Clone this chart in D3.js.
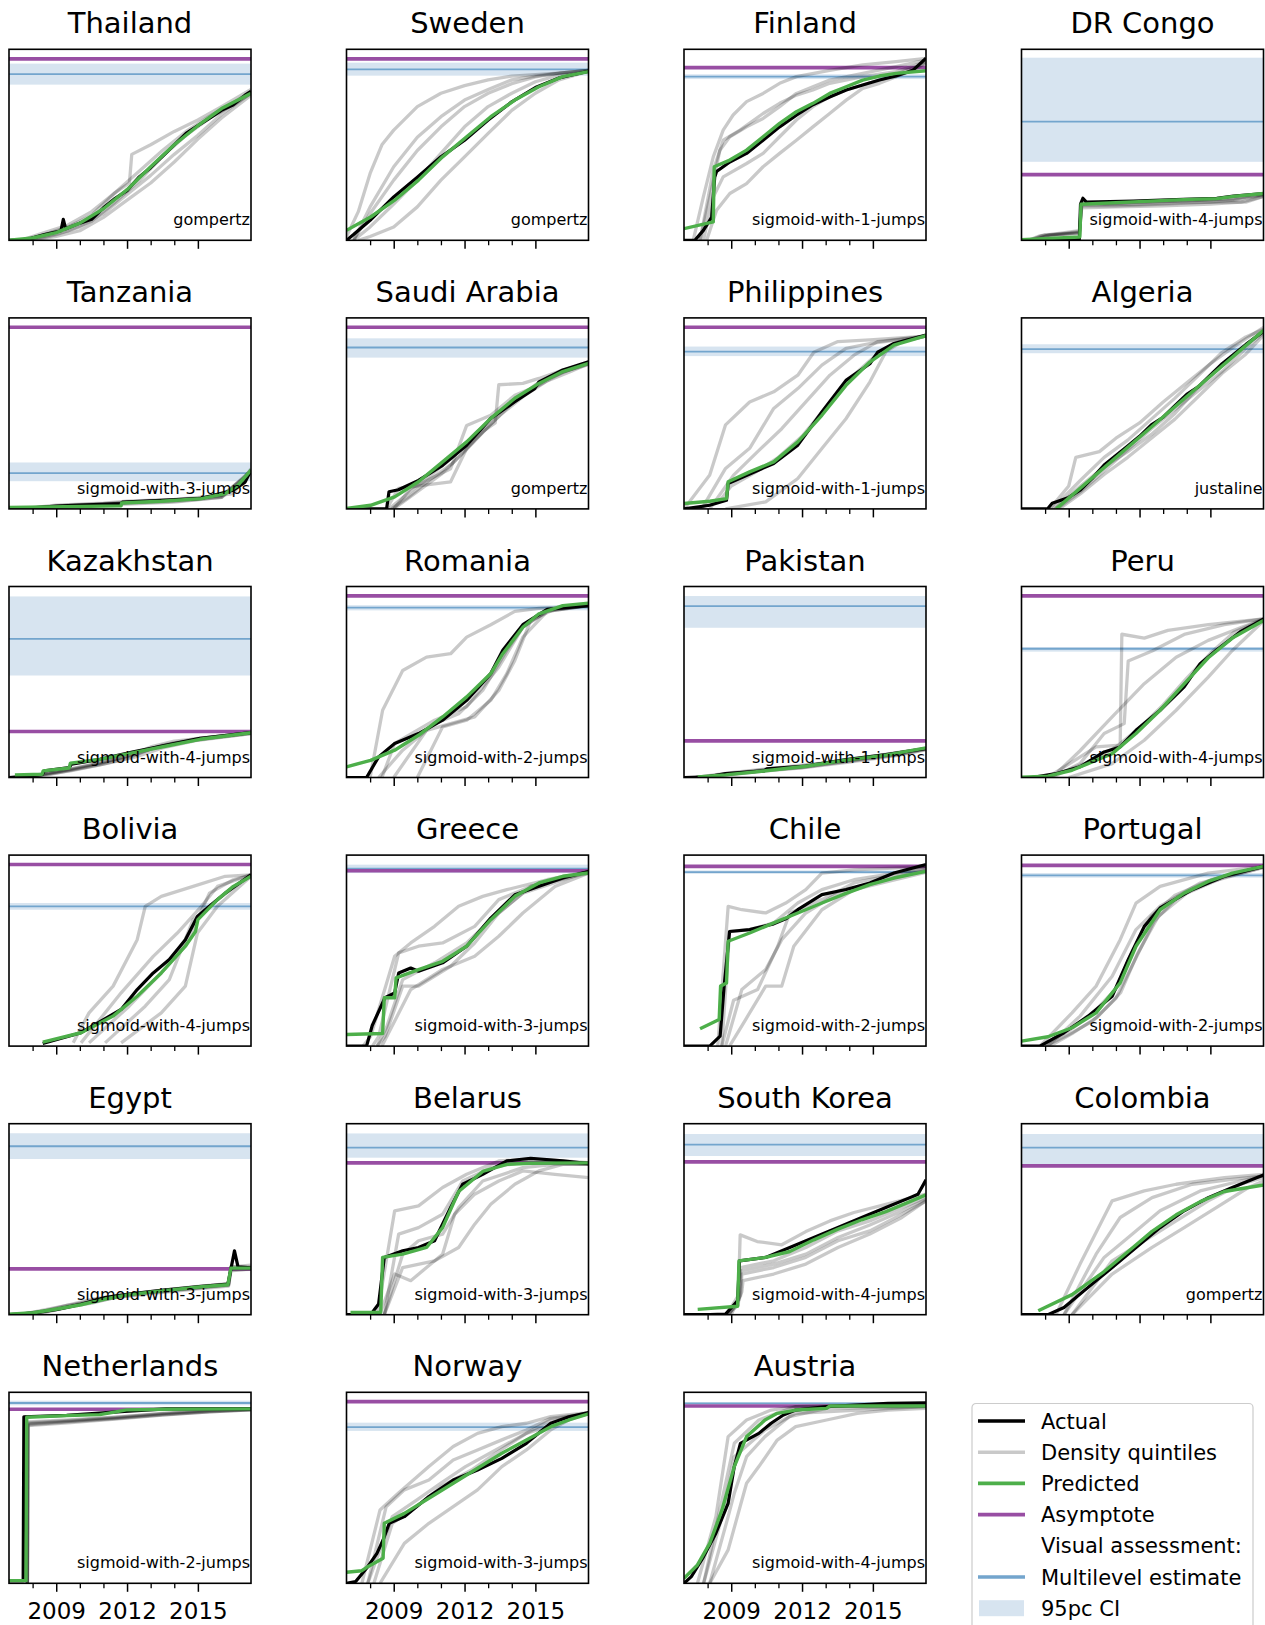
<!DOCTYPE html>
<html><head><meta charset="utf-8">
<script src="https://cdn.jsdelivr.net/npm/d3@7"></script>
<style>body{margin:0;background:#fff;} svg{display:block;font-family:"DejaVu Sans",sans-serif;}</style>
</head><body><svg id="chart" width="1265" height="1625"></svg>
<script>
// ---------------- DATA ----------------
const countries = ["Thailand","Sweden","Finland","DR Congo","Tanzania","Saudi Arabia","Philippines","Algeria",
  "Kazakhstan","Romania","Pakistan","Peru","Bolivia","Greece","Chile","Portugal",
  "Egypt","Belarus","South Korea","Colombia","Netherlands","Norway","Austria"];
const models = ["gompertz","gompertz","sigmoid-with-1-jumps","sigmoid-with-4-jumps","sigmoid-with-3-jumps","gompertz","sigmoid-with-1-jumps","justaline",
  "sigmoid-with-4-jumps","sigmoid-with-2-jumps","sigmoid-with-1-jumps","sigmoid-with-4-jumps","sigmoid-with-4-jumps","sigmoid-with-3-jumps","sigmoid-with-2-jumps","sigmoid-with-2-jumps",
  "sigmoid-with-3-jumps","sigmoid-with-3-jumps","sigmoid-with-4-jumps","gompertz","sigmoid-with-2-jumps","sigmoid-with-3-jumps","sigmoid-with-4-jumps"];
const asymptotes = [0.95,0.95,0.904,0.344,0.951,0.951,0.951,null,0.241,0.951,0.192,0.951,0.951,0.918,0.941,0.946,0.24,0.795,0.8,0.779,0.911,0.951,0.928];
const multilevel = [0.87,0.895,0.857,0.621,0.187,0.845,0.823,0.837,0.726,0.889,0.897,0.674,0.732,0.929,0.911,0.894,0.882,0.875,0.89,0.875,0.944,0.818,0.942];
const ciLow  = [0.815,0.862,0.844,0.411,0.145,0.792,0.80,0.815,0.534,0.875,0.784,0.659,0.714,0.906,0.902,0.882,0.815,0.822,0.831,0.787,0.932,0.798,0.937];
const ciHigh = [0.925,0.93,0.869,0.956,0.243,0.893,0.85,0.862,0.948,0.902,0.95,0.683,0.749,0.95,0.92,0.906,0.95,0.949,0.946,0.946,0.956,0.841,0.948];

const predicted = [
 [[2007,0],[2008,0.012],[2009,0.04],[2010,0.09],[2011,0.165],[2012,0.265],[2013,0.385],[2014,0.5],[2015,0.6],[2016,0.69],[2017.25,0.77]],
 [[2007,0.052],[2008.02,0.122],[2009.04,0.21],[2010.05,0.315],[2011.07,0.437],[2012.09,0.542],[2013.11,0.647],[2014.13,0.734],[2015.15,0.804],[2016.16,0.857],[2017.25,0.883]],
 [[2007,0.061],[2008.24,0.096],[2008.28,0.385],[2008.94,0.42],[2009.65,0.472],[2010.35,0.542],[2011.05,0.612],[2011.76,0.673],[2012.46,0.717],[2013.17,0.769],[2013.87,0.804],[2014.57,0.839],[2015.28,0.86],[2015.98,0.874],[2017.25,0.888]],
 [[2007,0.003],[2009.47,0.017],[2009.52,0.189],[2011.74,0.201],[2013.86,0.213],[2015.27,0.218],[2015.98,0.23],[2017.25,0.245]],
 [[2007,0.007],[2011.75,0.016],[2011.77,0.031],[2013.45,0.04],[2015.15,0.054],[2016.16,0.08],[2016.7,0.124],[2017.25,0.203]],
 [[2007,0.002],[2008.02,0.019],[2009.04,0.063],[2010.05,0.142],[2011.07,0.246],[2012.09,0.351],[2013.11,0.474],[2014.13,0.579],[2015.15,0.657],[2016.16,0.719],[2017.25,0.762]],
 [[2007,0.028],[2008.09,0.04],[2008.8,0.054],[2008.87,0.142],[2009.78,0.194],[2010.8,0.246],[2011.82,0.351],[2012.84,0.49],[2013.86,0.647],[2014.87,0.769],[2015.89,0.857],[2017.25,0.907]],
 [[2008.47,0],[2012.86,0.467],[2017.25,0.935]],
 [[2007.25,0.014],[2008.4,0.017],[2008.45,0.035],[2009.55,0.05],[2009.6,0.075],[2010.85,0.095],[2012.27,0.13],[2013.68,0.165],[2015.09,0.2],[2017.25,0.234]],
 [[2007,0.056],[2008.02,0.09],[2009.04,0.143],[2010.05,0.221],[2011.07,0.317],[2012.09,0.422],[2013.11,0.544],[2013.62,0.648],[2014.47,0.787],[2015.15,0.857],[2016.16,0.9],[2017.25,0.913]],
 [[2007.58,0.003],[2008.76,0.014],[2010.46,0.035],[2012.16,0.059],[2013.86,0.091],[2015.55,0.117],[2017.25,0.155]],
 [[2007,0.002],[2008.12,0.007],[2009.14,0.038],[2009.82,0.073],[2010.84,0.125],[2011.85,0.23],[2012.87,0.352],[2013.89,0.49],[2014.91,0.627],[2015.93,0.73],[2017.25,0.822]],
 [[2008.43,0.021],[2010.05,0.07],[2011.41,0.157],[2012.43,0.261],[2013.45,0.383],[2014.47,0.523],[2014.9,0.6],[2015.0,0.662],[2015.83,0.767],[2016.5,0.836],[2017.25,0.889]],
 [[2007,0.061],[2008.53,0.066],[2008.6,0.253],[2009.04,0.253],[2009.1,0.357],[2010.05,0.4],[2011.07,0.444],[2012.09,0.523],[2013.11,0.662],[2014.13,0.784],[2015.15,0.854],[2016.16,0.889],[2017.25,0.906]],
 [[2007.68,0.091],[2008.49,0.139],[2008.55,0.314],[2008.8,0.33],[2008.87,0.549],[2009.78,0.592],[2010.8,0.645],[2011.82,0.697],[2012.84,0.749],[2013.86,0.8],[2014.87,0.845],[2015.89,0.88],[2017.25,0.915]],
 [[2007,0.026],[2008.12,0.049],[2009.14,0.096],[2010.16,0.174],[2011.18,0.331],[2011.85,0.523],[2012.87,0.714],[2013.89,0.801],[2014.91,0.862],[2015.93,0.906],[2017.25,0.941]],
 [[2007,0.003],[2008.02,0.01],[2009.04,0.03],[2010.05,0.052],[2011.07,0.082],[2012.09,0.105],[2013.45,0.125],[2015.15,0.146],[2016.27,0.157],[2016.4,0.244],[2017.25,0.244]],
 [[2007.17,0.012],[2008.45,0.012],[2008.53,0.3],[2009.38,0.317],[2010.39,0.352],[2011.07,0.456],[2011.75,0.645],[2012.77,0.75],[2013.79,0.787],[2014.8,0.793],[2017.25,0.795]],
 [[2007.58,0.028],[2009.27,0.044],[2009.33,0.282],[2010.46,0.3],[2011.48,0.331],[2012.5,0.392],[2013.52,0.448],[2014.53,0.497],[2015.55,0.54],[2016.57,0.592],[2017.25,0.627]],
 [[2007.71,0.021],[2009.14,0.105],[2010.5,0.226],[2011.52,0.331],[2012.53,0.436],[2013.55,0.523],[2014.57,0.592],[2015.59,0.645],[2017.25,0.679]],
 [[2007,0.014],[2007.72,0.014],[2007.75,0.869],[2009.44,0.878],[2010.84,0.883],[2011.41,0.895],[2011.97,0.908],[2013.66,0.911],[2017.25,0.913]],
 [[2007,0.058],[2007.65,0.066],[2007.9,0.087],[2008.55,0.131],[2008.6,0.314],[2009.45,0.366],[2010.49,0.445],[2011.52,0.524],[2012.55,0.602],[2013.58,0.681],[2014.62,0.75],[2015.65,0.82],[2016.42,0.855],[2017.25,0.887]],
 [[2007,0.026],[2007.57,0.096],[2008.09,0.209],[2008.61,0.384],[2009.13,0.611],[2009.65,0.768],[2010.43,0.855],[2010.95,0.89],[2011.73,0.907],[2013.04,0.916],[2013.17,0.928],[2017.25,0.928]]
];

const actual = [
 [[2007,0],[2007.8,0.005],[2008.5,0.03],[2009.2,0.05],[2009.3,0.11],[2009.4,0.06],[2010,0.09],[2010.5,0.11],[2011,0.17],[2011.5,0.22],[2012,0.26],[2012.5,0.33],[2013,0.38],[2013.5,0.44],[2014,0.5],[2014.5,0.56],[2015,0.6],[2015.5,0.64],[2016,0.68],[2016.5,0.71],[2017,0.76],[2017.25,0.78]],
 [[2007,0],[2007.3,0.03],[2008,0.105],[2009,0.227],[2010,0.33],[2011,0.437],[2012,0.524],[2013,0.63],[2014,0.725],[2015,0.8],[2016,0.85],[2017.25,0.885]],
 [[2007,0],[2007.46,0],[2007.82,0.052],[2008.17,0.12],[2008.3,0.33],[2008.38,0.36],[2008.94,0.41],[2009.65,0.455],[2010.35,0.524],[2011.05,0.594],[2011.76,0.655],[2012.46,0.71],[2013.17,0.75],[2013.87,0.787],[2014.57,0.813],[2015.28,0.839],[2015.98,0.86],[2016.69,0.89],[2017.25,0.953]],
 [[2007,0],[2009.45,0.005],[2009.5,0.19],[2009.6,0.22],[2009.75,0.2],[2011.74,0.205],[2013.86,0.215],[2015.27,0.22],[2015.98,0.232],[2017.25,0.245]],
 [[2007,0],[2008,0.005],[2009,0.015],[2010,0.02],[2011.75,0.028],[2011.8,0.035],[2013.45,0.045],[2015.15,0.055],[2016.5,0.098],[2017,0.14],[2017.25,0.203]],
 [[2007,0],[2008.7,0.002],[2008.8,0.09],[2009.2,0.1],[2010.05,0.149],[2011.07,0.228],[2012.09,0.333],[2013.11,0.474],[2014.13,0.561],[2014.97,0.63],[2015.15,0.665],[2016.16,0.727],[2017.25,0.77]],
 [[2007,0],[2008.09,0.019],[2008.8,0.045],[2008.87,0.133],[2010.8,0.238],[2011.82,0.334],[2012.84,0.507],[2013.86,0.673],[2014.87,0.76],[2015.2,0.82],[2015.89,0.866],[2017.25,0.91]],
 [[2007,0],[2008.1,0],[2008.3,0.03],[2009,0.06],[2009.5,0.1],[2010,0.16],[2010.5,0.23],[2011,0.28],[2011.5,0.33],[2012,0.38],[2012.5,0.44],[2013,0.48],[2013.5,0.54],[2014,0.6],[2014.5,0.64],[2015,0.7],[2015.5,0.76],[2016,0.81],[2016.5,0.86],[2017.25,0.93]],
 [[2007,0],[2007.5,0.005],[2008.4,0.015],[2008.5,0.035],[2009.55,0.052],[2009.65,0.07],[2010.85,0.095],[2012.27,0.135],[2013.68,0.17],[2015.09,0.205],[2017.25,0.235]],
 [[2007,0],[2007.85,0],[2008.36,0.108],[2009.04,0.178],[2010.05,0.23],[2011.07,0.3],[2012.09,0.404],[2013.11,0.544],[2013.62,0.666],[2014.47,0.8],[2015.5,0.88],[2017.25,0.9]],
 [[2007,0],[2008,0.003],[2008.76,0.02],[2010.4,0.035],[2010.5,0.045],[2012.16,0.06],[2013.86,0.094],[2015.55,0.12],[2017.25,0.152]],
 [[2007,0],[2007.44,0],[2008.46,0.02],[2009.48,0.056],[2010.5,0.134],[2011.18,0.16],[2011.85,0.247],[2012.87,0.352],[2013.89,0.475],[2014.57,0.596],[2015.25,0.666],[2016.27,0.763],[2017.25,0.829]],
 [[2008.43,0.014],[2010.05,0.07],[2011.75,0.192],[2012.43,0.296],[2013.11,0.383],[2013.79,0.453],[2014.47,0.557],[2014.98,0.679],[2015.49,0.732],[2016.16,0.801],[2017.25,0.897]],
 [[2007,0],[2007.85,0],[2008.09,0.108],[2008.63,0.253],[2009.04,0.279],[2009.21,0.383],[2009.72,0.409],[2010.05,0.392],[2011.07,0.436],[2012.09,0.523],[2013.11,0.67],[2014.13,0.792],[2016.16,0.88],[2017.25,0.914]],
 [[2007,0],[2008.09,0],[2008.53,0.052],[2008.7,0.314],[2008.93,0.6],[2009.78,0.61],[2010.8,0.64],[2011.31,0.666],[2011.82,0.714],[2012.84,0.793],[2013.86,0.82],[2014.87,0.854],[2015.89,0.906],[2017.25,0.95]],
 [[2007,0],[2007.78,0],[2008.8,0.07],[2009.82,0.157],[2010.84,0.261],[2011.52,0.453],[2012.2,0.627],[2012.87,0.723],[2014.23,0.819],[2015.59,0.889],[2017.25,0.941]],
 [[2007,0],[2008.02,0.008],[2009.04,0.028],[2010.05,0.055],[2010.5,0.07],[2011.07,0.09],[2012.09,0.108],[2013.45,0.127],[2015.15,0.148],[2016.27,0.16],[2016.4,0.24],[2016.55,0.334],[2016.7,0.25],[2017.25,0.245]],
 [[2007,0],[2008.02,0],[2008.36,0.056],[2008.6,0.3],[2009.38,0.335],[2010.05,0.352],[2010.73,0.387],[2011.41,0.561],[2011.92,0.683],[2012.77,0.735],[2013.79,0.805],[2014.8,0.819],[2016.16,0.805],[2017.25,0.791]],
 [[2007,0],[2008.09,0],[2008.76,0.003],[2009.27,0.073],[2009.35,0.282],[2010.46,0.3],[2011.48,0.352],[2012.5,0.404],[2013.52,0.456],[2014.53,0.509],[2015.55,0.561],[2016.57,0.613],[2016.91,0.631],[2017.25,0.706]],
 [[2007,0],[2008.12,0],[2008.8,0.038],[2009.82,0.143],[2010.84,0.247],[2011.85,0.352],[2012.87,0.456],[2013.89,0.544],[2014.91,0.613],[2015.93,0.666],[2016.61,0.7],[2017.25,0.732]],
 [[2007,0.014],[2007.6,0.014],[2007.63,0.872],[2009.44,0.879],[2011.9,0.9],[2013.66,0.913],[2017.25,0.915]],
 [[2007,0],[2007.39,0.009],[2007.9,0.087],[2008.29,0.157],[2008.55,0.227],[2008.81,0.314],[2009.45,0.349],[2010.49,0.454],[2011.52,0.541],[2012.55,0.593],[2013.58,0.654],[2014.62,0.733],[2015.65,0.838],[2016.42,0.872],[2017.25,0.894]],
 [[2007,0],[2007.31,0.035],[2007.83,0.14],[2008.35,0.262],[2008.87,0.419],[2009.13,0.611],[2009.39,0.733],[2010.17,0.785],[2010.69,0.838],[2011.21,0.881],[2011.73,0.907],[2013.04,0.925],[2015.64,0.942],[2017.25,0.945]]
];

const quintiles = [
 [ [[2007.5,0],[2008.5,0.03],[2009.5,0.07],[2010.5,0.13],[2011.5,0.25],[2012.1,0.3],[2012.2,0.45],[2013,0.5],[2014,0.57],[2015,0.63],[2016,0.7],[2017.25,0.79]],
   [[2007.5,0],[2008.5,0.04],[2009.5,0.08],[2010.5,0.15],[2011.5,0.25],[2012.5,0.36],[2013.5,0.47],[2014.5,0.57],[2015.5,0.65],[2016.5,0.72],[2017.25,0.78]],
   [[2007.7,0],[2008.5,0.02],[2009.5,0.05],[2010.5,0.1],[2011.5,0.2],[2012.5,0.31],[2013.5,0.44],[2014.5,0.55],[2015.5,0.64],[2016.5,0.71],[2017.25,0.77]],
   [[2008,0],[2009,0.02],[2010,0.05],[2011,0.12],[2012,0.21],[2013,0.3],[2014,0.41],[2015,0.53],[2016,0.64],[2017.25,0.76]],
   [[2008,0],[2009,0.03],[2010,0.07],[2011,0.14],[2012,0.24],[2013,0.34],[2014,0.45],[2015,0.55],[2016,0.66],[2017.25,0.77]] ],
 [ [[2007,0.02],[2007.5,0.15],[2008,0.35],[2008.5,0.5],[2009,0.577],[2010,0.7],[2011,0.77],[2012,0.81],[2013,0.84],[2014,0.86],[2016,0.875],[2017.25,0.89]],
   [[2007.3,0],[2008,0.175],[2009,0.385],[2010,0.54],[2011,0.647],[2012,0.734],[2013,0.79],[2014,0.84],[2015,0.86],[2016,0.875],[2017.25,0.89]],
   [[2007.3,0],[2008,0.14],[2009,0.315],[2010,0.47],[2011,0.594],[2012,0.7],[2013,0.77],[2014,0.82],[2015,0.855],[2016,0.875],[2017.25,0.89]],
   [[2007.3,0],[2008,0.07],[2009,0.19],[2010,0.315],[2011,0.455],[2012,0.594],[2013,0.7],[2014,0.77],[2015,0.83],[2016,0.865],[2017.25,0.885]],
   [[2007.5,0],[2008,0.02],[2009,0.07],[2010,0.175],[2011,0.315],[2012,0.437],[2013,0.56],[2014,0.68],[2015,0.77],[2016,0.84],[2017.25,0.885]] ],
 [ [[2007.39,0],[2007.82,0.227],[2008.24,0.437],[2008.66,0.577],[2009.08,0.656],[2009.65,0.726],[2010.35,0.769],[2011.05,0.822],[2011.76,0.857],[2013.17,0.89],[2014.57,0.918],[2015.98,0.935],[2017.25,0.953]],
   [[2007.68,0],[2008.1,0.227],[2008.52,0.472],[2008.94,0.542],[2009.65,0.594],[2010.35,0.638],[2011.05,0.7],[2011.76,0.769],[2012.46,0.804],[2013.17,0.839],[2014.57,0.874],[2015.98,0.909],[2017.25,0.944]],
   [[2007.68,0],[2008.24,0.367],[2008.66,0.524],[2009.37,0.577],[2010.35,0.664],[2011.05,0.717],[2011.76,0.76],[2012.46,0.787],[2013.17,0.822],[2014.57,0.857],[2015.98,0.883],[2017.25,0.935]],
   [[2007.82,0],[2008.24,0.227],[2008.66,0.332],[2009.65,0.402],[2010.35,0.455],[2011.05,0.542],[2011.76,0.63],[2012.46,0.7],[2013.17,0.752],[2013.87,0.787],[2015.28,0.839],[2017.25,0.927]],
   [[2007.96,0],[2008.38,0.157],[2008.94,0.245],[2009.65,0.297],[2010.35,0.385],[2011.05,0.455],[2011.76,0.524],[2012.46,0.594],[2013.17,0.664],[2013.87,0.734],[2014.57,0.795],[2015.28,0.822],[2016.69,0.89],[2017.25,0.927]] ],
 [ [[2007.3,0],[2007.8,0.02],[2009.45,0.045],[2009.55,0.2],[2010.5,0.19],[2012,0.2],[2014,0.205],[2016,0.22],[2017.25,0.24]],
   [[2007.3,0],[2007.8,0.025],[2009.45,0.04],[2009.55,0.18],[2011,0.18],[2013,0.19],[2015,0.2],[2016,0.21],[2017.25,0.235]],
   [[2007.4,0],[2008,0.03],[2009.45,0.035],[2009.55,0.17],[2011,0.175],[2013,0.18],[2015,0.19],[2016.3,0.2],[2017.25,0.23]],
   [[2007.4,0],[2008,0.02],[2009.45,0.04],[2009.55,0.19],[2012,0.2],[2014,0.21],[2016,0.215],[2017.25,0.24]],
   [[2007.5,0],[2008.2,0.03],[2009.45,0.05],[2009.55,0.185],[2012,0.19],[2014,0.2],[2016.5,0.2],[2017.25,0.23]] ],
 [ [[2007.5,0],[2009,0.02],[2011,0.03],[2012,0.04],[2014,0.05],[2016,0.07],[2017.25,0.19]],
   [[2007.5,0],[2009,0.015],[2011,0.025],[2012,0.035],[2014,0.045],[2016,0.065],[2017.25,0.2]],
   [[2007.8,0],[2009,0.01],[2011,0.02],[2012,0.03],[2014,0.04],[2016,0.06],[2017.25,0.2]],
   [[2007.8,0],[2009.5,0.02],[2011.5,0.03],[2013,0.04],[2015,0.055],[2016.5,0.08],[2017.25,0.21]],
   [[2008,0],[2010,0.015],[2012,0.025],[2014,0.035],[2016,0.06],[2017.25,0.19]] ],
 [ [[2008.7,0],[2009.2,0.107],[2011.41,0.142],[2012.09,0.316],[2012.77,0.404],[2013.3,0.45],[2013.45,0.65],[2014.47,0.657],[2015.15,0.683],[2016.16,0.727],[2017.25,0.762]],
   [[2009,0],[2009.72,0.107],[2011.41,0.21],[2012.09,0.437],[2013.11,0.49],[2014.13,0.595],[2015.15,0.647],[2016.16,0.717],[2017.25,0.755]],
   [[2008.8,0],[2009.5,0.07],[2010.5,0.17],[2011.5,0.27],[2012.5,0.4],[2013.5,0.51],[2014.5,0.6],[2015.5,0.68],[2016.5,0.73],[2017.25,0.765]],
   [[2008.9,0],[2009.6,0.06],[2010.5,0.15],[2011.5,0.24],[2012.5,0.37],[2013.5,0.49],[2014.5,0.59],[2015.5,0.67],[2016.5,0.72],[2017.25,0.76]],
   [[2009,0],[2010,0.09],[2011,0.18],[2012,0.3],[2013,0.43],[2014,0.55],[2015,0.65],[2016,0.71],[2017.25,0.76]] ],
 [ [[2007,0],[2008.09,0.177],[2008.76,0.44],[2009.78,0.56],[2010.8,0.613],[2011.82,0.7],[2012.5,0.82],[2013.52,0.876],[2014.87,0.885],[2017.25,0.905]],
   [[2007.75,0],[2008.76,0.212],[2009.78,0.317],[2010.8,0.526],[2011.82,0.63],[2012.84,0.753],[2013.86,0.84],[2014.87,0.866],[2017.25,0.905]],
   [[2008.09,0],[2009.1,0.177],[2010.12,0.3],[2011.14,0.42],[2012.16,0.56],[2013.18,0.7],[2014.2,0.805],[2015.2,0.876],[2017.25,0.905]],
   [[2007.5,0],[2008.5,0.04],[2009,0.12],[2010,0.19],[2011,0.27],[2012,0.38],[2013,0.53],[2014,0.68],[2015,0.79],[2016,0.87],[2017.25,0.905]],
   [[2008.76,0],[2010.46,0.037],[2011.82,0.159],[2012.84,0.316],[2013.86,0.472],[2014.87,0.664],[2015.55,0.823],[2016.23,0.876],[2017.25,0.905]] ],
 [ [[2008.2,0],[2009,0.12],[2009.3,0.27],[2010.3,0.3],[2011,0.37],[2012,0.45],[2013,0.56],[2014,0.66],[2015,0.76],[2016,0.85],[2017.25,0.95]],
   [[2008.3,0],[2009.5,0.15],[2010.5,0.27],[2011.5,0.36],[2012.5,0.47],[2013.5,0.58],[2014.5,0.7],[2015.5,0.82],[2016.5,0.9],[2017.25,0.94]],
   [[2008.4,0],[2009.5,0.12],[2010.5,0.22],[2011.5,0.3],[2012.5,0.39],[2013.5,0.5],[2014.5,0.64],[2015.5,0.76],[2016.5,0.86],[2017.25,0.93]],
   [[2008.5,0],[2009.5,0.09],[2010.5,0.2],[2011.5,0.31],[2012.5,0.42],[2013.5,0.52],[2014.5,0.62],[2015.5,0.72],[2016.5,0.84],[2017.25,0.92]],
   [[2008.6,0],[2009.5,0.08],[2010.5,0.18],[2011.5,0.27],[2012.5,0.37],[2013.5,0.47],[2014.5,0.59],[2015.5,0.71],[2016.5,0.81],[2017.25,0.91]] ],
 [ [[2007.5,0],[2008.5,0.02],[2009.6,0.04],[2010.8,0.07],[2012,0.11],[2013,0.16],[2014,0.19],[2015.5,0.21],[2017.25,0.235]],
   [[2007.5,0],[2008.5,0.015],[2009.6,0.035],[2010.8,0.065],[2012,0.1],[2013,0.15],[2014,0.18],[2015.5,0.205],[2017.25,0.23]],
   [[2007.6,0],[2008.6,0.02],[2009.6,0.045],[2010.8,0.075],[2012,0.115],[2013.5,0.165],[2015,0.2],[2017.25,0.232]],
   [[2007.7,0],[2008.7,0.015],[2009.7,0.04],[2011,0.07],[2012.3,0.105],[2013.5,0.155],[2015,0.195],[2017.25,0.23]],
   [[2007.7,0],[2008.7,0.02],[2009.7,0.045],[2011,0.08],[2012.3,0.12],[2013.5,0.17],[2015,0.205],[2017.25,0.235]] ],
 [ [[2008.0,0],[2008.53,0.352],[2009.38,0.56],[2010.39,0.63],[2011.41,0.648],[2012.09,0.735],[2013.11,0.8],[2014.13,0.87],[2015.15,0.885],[2017.25,0.9]],
   [[2008.36,0],[2009.38,0.143],[2010.73,0.282],[2011.75,0.334],[2012.77,0.456],[2013.79,0.665],[2014.47,0.787],[2015.49,0.874],[2017.25,0.9]],
   [[2008.5,0],[2009.04,0.178],[2010.73,0.3],[2012.09,0.37],[2013.45,0.578],[2014.47,0.787],[2015.5,0.87],[2017.25,0.9]],
   [[2009,0],[2010.39,0.247],[2011.41,0.282],[2012.43,0.317],[2013.45,0.456],[2014.13,0.613],[2014.8,0.822],[2015.83,0.882],[2017.25,0.9]],
   [[2010,0],[2011.07,0.265],[2012.09,0.3],[2013.11,0.404],[2013.79,0.544],[2014.47,0.735],[2015.5,0.87],[2017.25,0.9]] ],
 [ [[2007.5,0],[2009,0.025],[2010.5,0.045],[2012,0.065],[2014,0.09],[2016,0.125],[2017.25,0.15]],
   [[2007.5,0],[2009,0.02],[2010.5,0.04],[2012,0.055],[2014,0.085],[2016,0.12],[2017.25,0.148]],
   [[2007.7,0],[2009,0.015],[2010.5,0.035],[2012,0.05],[2014,0.08],[2016,0.115],[2017.25,0.145]],
   [[2007.7,0],[2009,0.022],[2010.5,0.042],[2012,0.06],[2014,0.092],[2016,0.13],[2017.25,0.152]],
   [[2007.8,0],[2009,0.018],[2010.5,0.038],[2012,0.052],[2014,0.088],[2016,0.118],[2017.25,0.15]] ],
 [ [[2008.1,0],[2010.16,0.16],[2011.18,0.17],[2011.25,0.75],[2012.2,0.73],[2013.2,0.77],[2014.91,0.8],[2017.25,0.83]],
   [[2008.3,0],[2009.48,0.073],[2010.5,0.23],[2011.35,0.282],[2011.52,0.61],[2012.53,0.662],[2013.89,0.749],[2015.59,0.8],[2017.25,0.83]],
   [[2008.3,0],[2009.48,0.14],[2010.84,0.317],[2012.2,0.491],[2013.55,0.63],[2014.91,0.718],[2016.27,0.784],[2017.25,0.83]],
   [[2008,0],[2009,0.04],[2010,0.09],[2011,0.16],[2012,0.26],[2013,0.38],[2014,0.52],[2015,0.65],[2016,0.76],[2017.25,0.83]],
   [[2009,0],[2010.84,0.073],[2012.2,0.195],[2013.55,0.352],[2014.91,0.526],[2015.93,0.665],[2017.25,0.82]] ],
 [ [[2009.72,0.017],[2010.39,0.174],[2011.41,0.314],[2012.43,0.557],[2012.77,0.732],[2013.45,0.784],[2014.8,0.836],[2016.16,0.889],[2017.25,0.897]],
   [[2010.05,0.017],[2011.75,0.279],[2013.11,0.47],[2014.13,0.592],[2015.15,0.732],[2015.83,0.836],[2017.25,0.897]],
   [[2010.39,0.017],[2012.09,0.209],[2013.45,0.383],[2014.47,0.523],[2015.49,0.801],[2016.5,0.871],[2017.25,0.897]],
   [[2011.07,0.017],[2012.77,0.209],[2013.79,0.348],[2014.8,0.662],[2015.83,0.767],[2017.25,0.897]],
   [[2011.75,0.017],[2013.45,0.174],[2014.47,0.314],[2014.98,0.592],[2015.83,0.732],[2017.25,0.889]] ],
 [ [[2007.7,0],[2008.02,0.05],[2009.04,0.47],[2009.72,0.54],[2010.73,0.627],[2011.75,0.732],[2012.77,0.784],[2013.79,0.819],[2015.49,0.871],[2017.25,0.914]],
   [[2008.1,0],[2008.36,0.05],[2009.21,0.488],[2010.05,0.523],[2011.07,0.54],[2012.43,0.627],[2013.45,0.767],[2014.8,0.836],[2017.25,0.914]],
   [[2008.3,0],[2008.7,0.1],[2009.38,0.348],[2010.73,0.436],[2012.09,0.54],[2013.11,0.662],[2014.47,0.801],[2017.25,0.914]],
   [[2008.3,0],[2008.63,0.05],[2009.38,0.314],[2010.05,0.314],[2011.41,0.418],[2012.43,0.54],[2013.45,0.697],[2014.8,0.836],[2017.25,0.906]],
   [[2008.5,0],[2009.72,0.296],[2011.07,0.401],[2012.43,0.47],[2013.45,0.575],[2014.47,0.697],[2015.83,0.836],[2017.25,0.906]] ],
 [ [[2008.43,0],[2008.87,0.732],[2009.45,0.714],[2010.46,0.697],[2011.31,0.749],[2012.16,0.819],[2012.84,0.906],[2014.2,0.923],[2017.25,0.94]],
   [[2008.6,0],[2008.93,0.6],[2009.78,0.61],[2010.8,0.645],[2011.82,0.749],[2012.84,0.819],[2014.2,0.871],[2017.25,0.93]],
   [[2008.6,0],[2009.1,0.24],[2010.12,0.296],[2010.97,0.523],[2011.48,0.697],[2012.84,0.767],[2014.2,0.854],[2017.25,0.93]],
   [[2008.76,0],[2009.45,0.296],[2010.46,0.401],[2011.14,0.557],[2012.16,0.697],[2013.52,0.801],[2015.55,0.871],[2017.25,0.92]],
   [[2008.93,0],[2009.61,0.139],[2010.46,0.314],[2011.14,0.314],[2011.65,0.523],[2012.84,0.714],[2014.2,0.819],[2017.25,0.91]] ],
 [ [[2007.78,0],[2009.14,0.174],[2010.16,0.314],[2011.18,0.557],[2011.85,0.749],[2012.87,0.836],[2014.91,0.906],[2017.25,0.941]],
   [[2008.12,0],[2009.48,0.157],[2010.84,0.366],[2011.85,0.61],[2012.87,0.732],[2014.57,0.854],[2017.25,0.941]],
   [[2007.9,0],[2009,0.08],[2010,0.17],[2011,0.3],[2011.7,0.5],[2012.5,0.68],[2013.5,0.79],[2015,0.87],[2017.25,0.94]],
   [[2008,0],[2009,0.06],[2010,0.13],[2011,0.25],[2011.8,0.45],[2012.6,0.65],[2013.6,0.78],[2015,0.86],[2017.25,0.935]],
   [[2008.2,0],[2009.2,0.07],[2010.2,0.15],[2011.2,0.28],[2011.9,0.48],[2012.8,0.68],[2014,0.8],[2015.5,0.88],[2017.25,0.935]] ],
 [ [[2007.3,0],[2008.5,0.02],[2009.5,0.05],[2010.5,0.08],[2011.5,0.1],[2013,0.12],[2015,0.14],[2016.3,0.16],[2016.4,0.25],[2017.25,0.26]],
   [[2007.3,0],[2008.5,0.015],[2009.5,0.04],[2010.5,0.06],[2011.5,0.09],[2013,0.11],[2015,0.135],[2016.3,0.15],[2016.4,0.23],[2017.25,0.24]],
   [[2007.5,0],[2008.5,0.02],[2009.5,0.045],[2010.5,0.075],[2011.5,0.095],[2013,0.118],[2015,0.142],[2016.3,0.155],[2016.4,0.24],[2017.25,0.245]],
   [[2007.5,0],[2008.5,0.025],[2009.5,0.05],[2010.5,0.065],[2011.5,0.09],[2013,0.115],[2015,0.14],[2016.3,0.155],[2016.4,0.235],[2017.25,0.238]],
   [[2007.6,0],[2008.5,0.012],[2009.5,0.038],[2010.5,0.07],[2011.5,0.098],[2013,0.122],[2015,0.148],[2016.3,0.162],[2016.4,0.25],[2017.25,0.25]] ],
 [ [[2008.3,0],[2009.04,0.544],[2010.05,0.57],[2011.07,0.666],[2012.09,0.735],[2013.45,0.805],[2014.8,0.815],[2016.16,0.805],[2017.25,0.796]],
   [[2008.6,0],[2009.21,0.422],[2010.05,0.456],[2011.07,0.526],[2011.92,0.7],[2013.11,0.77],[2014.8,0.805],[2017.25,0.787]],
   [[2008.6,0],[2009.38,0.317],[2010.05,0.387],[2011.07,0.422],[2011.75,0.561],[2012.77,0.7],[2014.47,0.77],[2015.83,0.787],[2017.25,0.787]],
   [[2008.4,0],[2009.04,0.213],[2009.72,0.178],[2010.39,0.247],[2011.07,0.317],[2011.58,0.526],[2012.43,0.631],[2013.45,0.7],[2014.47,0.753],[2015.83,0.735],[2017.25,0.718]],
   [[2008.6,0],[2009.38,0.247],[2010.73,0.282],[2011.75,0.352],[2012.43,0.474],[2013.11,0.578],[2014.13,0.683],[2015.15,0.753],[2016.16,0.787],[2017.25,0.787]] ],
 [ [[2008.8,0],[2009.3,0.1],[2009.38,0.418],[2010.1,0.383],[2011.14,0.366],[2012.16,0.435],[2013.18,0.491],[2014.2,0.535],[2015.55,0.578],[2017.25,0.631]],
   [[2008.8,0],[2009.3,0.05],[2009.4,0.247],[2010.8,0.282],[2012.16,0.352],[2013.52,0.439],[2014.87,0.491],[2016.23,0.561],[2017.25,0.613]],
   [[2008.9,0],[2009.35,0.08],[2009.42,0.23],[2010.8,0.265],[2012.16,0.317],[2013.52,0.404],[2014.87,0.47],[2016.23,0.543],[2017.25,0.605]],
   [[2008.9,0],[2009.4,0.1],[2009.45,0.213],[2010.8,0.247],[2012.16,0.3],[2013.52,0.387],[2014.87,0.439],[2016.23,0.526],[2017.25,0.596]],
   [[2009,0],[2009.45,0.12],[2009.5,0.178],[2010.8,0.213],[2012.16,0.265],[2013.52,0.352],[2014.87,0.422],[2016.23,0.509],[2017.25,0.596]] ],
 [ [[2008.46,0],[2009.48,0.265],[2010.84,0.596],[2012.2,0.648],[2013.55,0.683],[2015.59,0.718],[2017.25,0.735]],
   [[2008.8,0],[2010.16,0.317],[2011.18,0.509],[2012.53,0.613],[2014.23,0.683],[2015.93,0.709],[2017.25,0.727]],
   [[2008.8,0],[2010.5,0.3],[2011.52,0.404],[2012.87,0.544],[2014.57,0.648],[2016.27,0.7],[2017.25,0.727]],
   [[2009.14,0],[2010.84,0.282],[2012.2,0.387],[2013.55,0.491],[2014.91,0.596],[2016.27,0.683],[2017.25,0.718]],
   [[2009.14,0],[2010.84,0.213],[2012.53,0.352],[2013.89,0.456],[2015.25,0.561],[2016.61,0.666],[2017.25,0.7]] ],
 [ [[2007.78,0],[2007.8,0.845],[2009.5,0.855],[2011.5,0.87],[2013.5,0.89],[2015.5,0.905],[2017.25,0.912]],
   [[2007.78,0],[2007.8,0.835],[2009.5,0.848],[2011.5,0.865],[2013.5,0.885],[2015.5,0.9],[2017.25,0.91]],
   [[2007.78,0],[2007.8,0.83],[2009.5,0.845],[2011.5,0.862],[2013.5,0.882],[2015.5,0.898],[2017.25,0.908]],
   [[2007.78,0],[2007.8,0.84],[2009.5,0.852],[2011.5,0.868],[2013.5,0.888],[2015.5,0.903],[2017.25,0.91]],
   [[2007.78,0],[2007.8,0.825],[2009.5,0.84],[2011.5,0.86],[2013.5,0.88],[2015.5,0.897],[2017.25,0.908]] ],
 [ [[2007.65,0],[2008.42,0.384],[2009.19,0.471],[2010.49,0.611],[2011.52,0.716],[2012.55,0.785],[2013.58,0.82],[2014.62,0.838],[2015.65,0.873],[2017.25,0.894]],
   [[2007.9,0],[2008.68,0.401],[2009.45,0.489],[2010.49,0.541],[2011.52,0.646],[2012.55,0.698],[2013.58,0.751],[2014.62,0.803],[2015.65,0.864],[2017.25,0.89]],
   [[2007.9,0],[2008.94,0.349],[2009.97,0.436],[2011.0,0.524],[2012.04,0.611],[2013.07,0.681],[2014.36,0.768],[2015.65,0.855],[2017.25,0.89]],
   [[2008.16,0],[2008.94,0.314],[2009.97,0.401],[2011.0,0.506],[2012.29,0.593],[2013.33,0.681],[2014.62,0.785],[2017.25,0.89]],
   [[2008.42,0],[2009.45,0.209],[2010.49,0.314],[2011.52,0.401],[2012.55,0.489],[2013.58,0.611],[2014.62,0.698],[2015.65,0.803],[2016.68,0.873],[2017.25,0.887]] ],
 [ [[2007.57,0],[2008.35,0.349],[2008.87,0.768],[2009.65,0.855],[2010.69,0.907],[2011.73,0.925],[2017.25,0.934]],
   [[2007.83,0],[2008.61,0.436],[2009.13,0.733],[2010.17,0.855],[2011.73,0.925],[2017.25,0.934]],
   [[2007.83,0],[2008.61,0.349],[2009.13,0.663],[2010.43,0.803],[2011.73,0.89],[2017.25,0.925]],
   [[2008.09,0],[2008.87,0.349],[2009.13,0.471],[2009.65,0.663],[2010.43,0.768],[2011.47,0.873],[2013.04,0.916],[2017.25,0.925]],
   [[2008.09,0],[2008.87,0.175],[2009.65,0.524],[2010.17,0.611],[2010.95,0.75],[2011.73,0.82],[2013.04,0.855],[2014.34,0.89],[2015.64,0.907],[2017.25,0.916]] ]
];

const majorTicks = [2009, 2012, 2015];
const majorTickLabels = ["2009", "2012", "2015"];
const minorTicks = [2008, 2010, 2011, 2013, 2014];
const yearDomain = [2007, 2017.25];
const legendLabels = ["Actual","Density quintiles","Predicted","Asymptote","Visual assessment:","Multilevel estimate","95pc CI"];
const legendKinds  = ["actual","quintile","predicted","asymptote","none","multilevel","ci"];

// ---------------- STYLE / LAYOUT ----------------
const C = {actual:"#000000", quintile:"#000000", predicted:"#4daf4a", asymptote:"#984ea3", multilevel:"#73a5cd", ci:"#d7e4f0"};
const panelW = 242, panelH = 191;
const colX = [9, 346.5, 684, 1021.5];
const rowY = [49.3, 317.9, 586.5, 855.1, 1123.7, 1392.3];

const svg = d3.select("#chart");
svg.append("rect").attr("width",1265).attr("height",1625).attr("fill","#fff");
svg.append("defs").append("clipPath").attr("id","pclip")
  .append("rect").attr("x",0).attr("y",0).attr("width",panelW).attr("height",panelH);

const x = d3.scaleLinear().domain(yearDomain).range([0, panelW]);
const y = d3.scaleLinear().domain([0, 1]).range([panelH, 0]);
const line = d3.line().x(d => x(d[0])).y(d => y(d[1]));

countries.forEach((name, i) => {
  const col = i % 4, row = Math.floor(i / 4);
  const g = svg.append("g").attr("transform", `translate(${colX[col]},${rowY[row]})`);
  const body = g.append("g").attr("clip-path", "url(#pclip)");

  body.append("rect").attr("x", x(yearDomain[0])).attr("width", x(yearDomain[1]) - x(yearDomain[0]))
    .attr("y", y(ciHigh[i])).attr("height", y(ciLow[i]) - y(ciHigh[i])).attr("fill", C.ci);
  body.append("line").attr("x1", x(yearDomain[0])).attr("x2", x(yearDomain[1]))
    .attr("y1", y(multilevel[i])).attr("y2", y(multilevel[i]))
    .attr("stroke", C.multilevel).attr("stroke-width", 1.8);
  if (asymptotes[i] !== null) {
    body.append("line").attr("x1", x(yearDomain[0])).attr("x2", x(yearDomain[1]))
      .attr("y1", y(asymptotes[i])).attr("y2", y(asymptotes[i]))
      .attr("stroke", C.asymptote).attr("stroke-width", 3.6);
  }
  quintiles[i].forEach(q => {
    body.append("path").datum(q).attr("d", line).attr("fill", "none")
      .attr("stroke", C.quintile).attr("stroke-opacity", 0.21).attr("stroke-width", 3.3)
      .attr("stroke-linejoin", "round");
  });
  body.append("path").datum(actual[i]).attr("d", line).attr("fill", "none")
    .attr("stroke", C.actual).attr("stroke-width", 3.2).attr("stroke-linejoin", "round");
  body.append("path").datum(predicted[i]).attr("d", line).attr("fill", "none")
    .attr("stroke", C.predicted).attr("stroke-width", 3.4).attr("stroke-linejoin", "round");

  g.append("text").attr("x", panelW - 1).attr("y", panelH - 15).attr("text-anchor", "end")
    .attr("font-size", 16).attr("fill", "#000").text(models[i]);

  const showLabels = row === 5;
  const ax = g.append("g").attr("transform", `translate(0,${panelH})`)
    .call(d3.axisBottom(x).tickValues(majorTicks).tickSize(8.5).tickPadding(11)
      .tickFormat((d, k) => showLabels ? majorTickLabels[k] : ""));
  ax.select(".domain").remove();
  ax.selectAll("line").attr("stroke", "#000").attr("stroke-width", 1.5);
  ax.selectAll("text").attr("font-size", 23).attr("fill", "#000").attr("font-family", "DejaVu Sans");
  const axm = g.append("g").attr("transform", `translate(0,${panelH})`)
    .call(d3.axisBottom(x).tickValues(minorTicks).tickSize(5).tickFormat(""));
  axm.select(".domain").remove();
  axm.selectAll("line").attr("stroke", "#000").attr("stroke-width", 1.3);

  g.append("rect").attr("x", 0).attr("y", 0).attr("width", panelW).attr("height", panelH)
    .attr("fill", "none").attr("stroke", "#000").attr("stroke-width", 1.6);

  g.append("text").attr("x", panelW / 2).attr("y", -16).attr("text-anchor", "middle")
    .attr("font-size", 29).attr("fill", "#000").text(name);
});

// ---------------- LEGEND ----------------
const lg = svg.append("g").attr("transform", "translate(972,1403.5)");
lg.append("rect").attr("x", 0).attr("y", 0).attr("width", 281).attr("height", 240).attr("rx", 4)
  .attr("fill", "#fff").attr("fill-opacity", 0.8).attr("stroke", "#cccccc").attr("stroke-width", 1.2);
legendLabels.forEach((lab, k) => {
  const cy = 17.5 + k * 31.2;
  const kind = legendKinds[k];
  if (kind === "ci") {
    lg.append("rect").attr("x", 7).attr("y", cy - 8).attr("width", 45).attr("height", 16).attr("fill", C.ci);
  } else if (kind !== "none") {
    lg.append("line").attr("x1", 6).attr("x2", 53).attr("y1", cy).attr("y2", cy)
      .attr("stroke", C[kind]).attr("stroke-opacity", kind === "quintile" ? 0.21 : 1)
      .attr("stroke-width", 3.6);
  }
  lg.append("text").attr("x", 69).attr("y", cy + 7.5).attr("font-size", 21).attr("fill", "#000").text(lab);
});
</script>
</body></html>
